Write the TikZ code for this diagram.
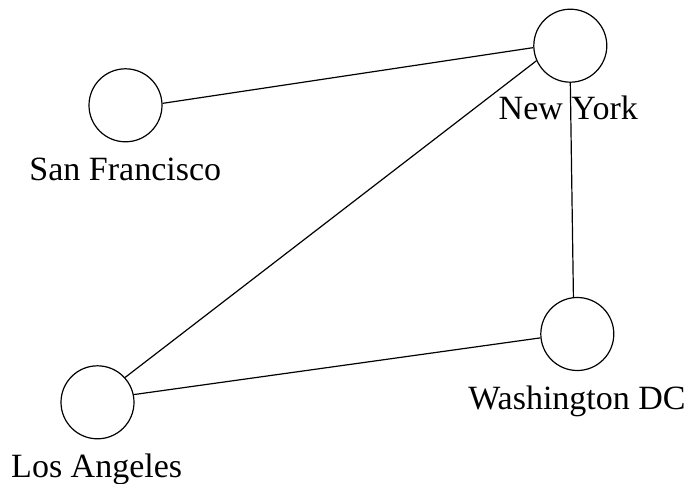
\documentclass[tikz,border=0pt]{standalone}
\usepackage{fontspec}
\setmainfont{Liberation Serif}
\begin{document}
\begin{tikzpicture}[x=1pt,y=-1pt,
  city/.style={circle,draw,line width=1.2pt,minimum size=73pt,inner sep=0pt},
  edge/.style={line width=1.2pt},
  lbl/.style={anchor=base,inner sep=0pt,font=\fontsize{34}{40}\selectfont}]
\useasboundingbox (0,0) rectangle (688,484);
\node[city] (sf) at (125.5,105.3) {};
\node[city] (ny) at (570.3,45.7) {};
\node[city] (dc) at (577.3,334) {};
\node[city] (la) at (97.5,402.3) {};
\draw[edge] (sf.3) -- (ny.183);
\draw[edge] (la.42) -- (ny.204);
\draw[edge] (ny.270) -- (dc.96);
\draw[edge] (la.12) -- (dc.186);
\node[lbl] (sft) at (125.3,180) {San Francisco};
\node[lbl] (nyt) at (568.3,120) {New York};
\node[lbl] (dct) at (577,409) {Washington DC};
\node[lbl] (lat) at (96.7,477) {Los Angeles};
\end{tikzpicture}
\end{document}
